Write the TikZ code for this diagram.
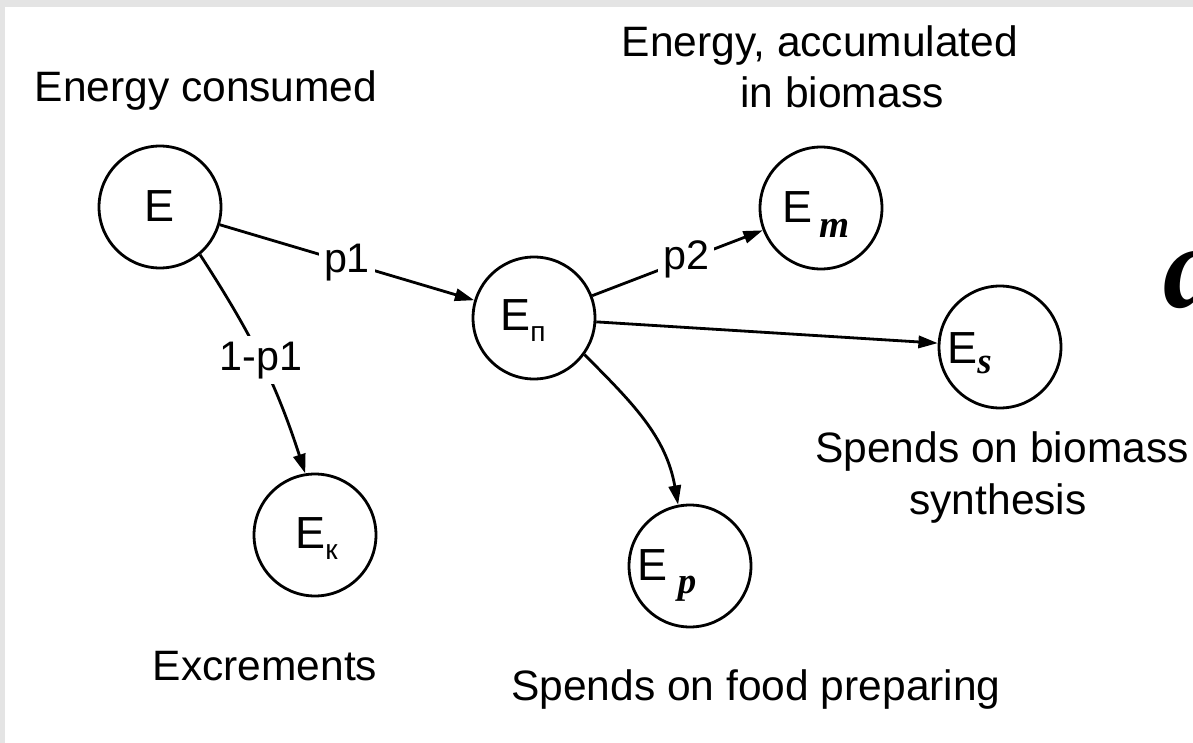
\documentclass[tikz,border=0pt]{standalone}
\usepackage{fontspec}
\setmainfont{Liberation Sans}
\newfontfamily\bifont{Liberation Serif}
\usetikzlibrary{arrows.meta}

\definecolor{paper}{RGB}{228,228,228}
\newcommand{\lowsub}[3]{\raisebox{-#2}{\fontsize{#1}{#1}\selectfont #3}}
\newcommand{\bisub}[3]{\raisebox{-#2}{\fontsize{#1}{#1}\selectfont\bifont\bfseries\itshape #3}}

\begin{document}
\begin{tikzpicture}[x=0.02cm,y=-0.02cm,
  circ/.style={draw,circle,line width=1.6pt,minimum size=2.44cm,inner sep=0pt},
  ename/.style={anchor=base west,inner sep=0pt,font=\fontsize{25.6}{30}\selectfont},
  lbl/.style={anchor=base,inner sep=0pt,font=\fontsize{24.2}{30}\selectfont},
  onlink/.style={fill=white,inner sep=3pt,font=\fontsize{23.5}{30}\selectfont},
  link/.style={line width=1.6pt,-{Triangle[length=11pt,width=7pt]}}]

  \clip (0,0) rectangle (1193,743);
  \fill[paper] (0,0) rectangle (1193,743);
  \fill[white] (5,7) rectangle (1193,743);

  \coordinate (cE) at (160,207);
  \coordinate (cEn) at (534,318);
  \coordinate (cEm) at (821,208);
  \coordinate (cEs) at (1000,347);
  \coordinate (cEk) at (315,535);
  \coordinate (cEp) at (690,566);

  \node[circ] (E) at (cE) {};
  \node[circ] (En) at (cEn) {};
  \node[circ] (Em) at (cEm) {};
  \node[circ] (Es) at (cEs) {};
  \node[circ] (Ek) at (cEk) {};
  \node[circ] (Ep) at (cEp) {};

  \node[ename] (tE) at (144,222) {E};
  \node[ename] (tEn) at (500,330) {E\lowsub{16}{6.8pt}{п}};
  \node[ename] (tEm) at (782,223) {E\,\bisub{22}{8pt}{m}};
  \node[ename] (tEs) at (947,363) {E\bisub{21}{5.7pt}{s}};
  \node[ename] (tEk) at (295,548) {E\lowsub{16}{6.8pt}{к}};
  \node[ename] (tEp) at (637,580) {E\hspace{6pt}\bisub{21}{7.4pt}{p}};

  \node[lbl] (consumed) at (206,102) {Energy consumed};
  \node[lbl] (acc1) at (820,57) {Energy, accumulated};
  \node[lbl] (acc2) at (842,108) {in biomass};
  \node[lbl] (synth1) at (1002,462) {Spends on biomass};
  \node[lbl] (synth2) at (998,514) {synthesis};
  \node[lbl] (excr) at (265,680) {Excrements};
  \node[lbl] (food) at (756,700) {Spends on food preparing};

  \draw[link] (E) -- node[onlink] {p1} (En);
  \draw[link] (E.-50) to[out=-57,in=108] node[onlink] {1-p1} (Ek.99);
  \draw[link] (En) -- node[onlink,pos=0.55] {p2} (Em);
  \draw[link] (En) -- (Es);
  \draw[link] (En.-36) to[out=-45,in=100] (Ep.101);

  \node[anchor=base west,inner sep=0pt,font=\fontsize{68}{70}\selectfont\bifont\bfseries\itshape] (a) at (1163,307) {a};
\end{tikzpicture}
\end{document}
